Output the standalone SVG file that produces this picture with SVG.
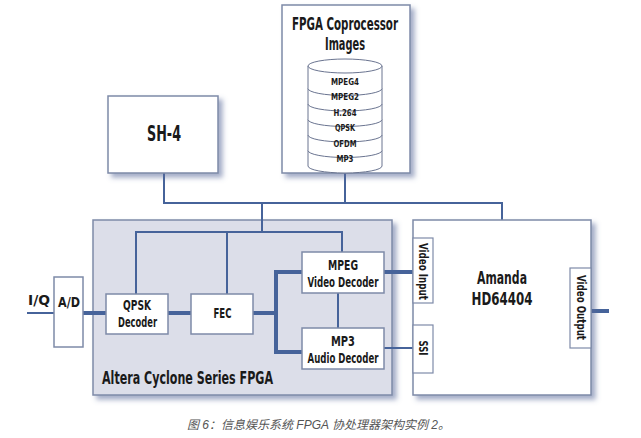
<svg xmlns="http://www.w3.org/2000/svg" width="641" height="438" viewBox="0 0 641 438">
<defs>
<filter id="sh" x="-10%" y="-10%" width="130%" height="130%">
<feDropShadow dx="4" dy="4" stdDeviation="2.5" flood-color="#5a6a9a" flood-opacity="0.55"/>
</filter>
<style>
.box{fill:#fff;stroke:#7e8aa8;stroke-width:1.5}
.port{fill:#fff;stroke:#7e8aa8;stroke-width:1.2}
.fpga{fill:#dcdee9;stroke:#7e8aa8;stroke-width:1.5}
.t{font-family:"DejaVu Sans Condensed","DejaVu Sans",sans-serif;font-stretch:condensed;font-weight:bold;fill:#1a1a1a;text-anchor:middle;dominant-baseline:central}
.thin{fill:none;stroke:#46639a;stroke-width:2}
.thick{fill:none;stroke:#46639a;stroke-width:4}
.cyl{fill:#fff;stroke:#6a7490;stroke-width:1}
.cap{font-family:"Liberation Sans","Noto Sans CJK SC",sans-serif;font-style:italic;font-size:12px;fill:#555}
</style>
</defs>
<rect width="641" height="438" fill="#fff"/>

<g id="fpga">
<rect class="fpga" x="93" y="220" width="299" height="175" filter="url(#sh)"/>
<text class="t" x="187.5" y="377" font-size="18" textLength="171" lengthAdjust="spacingAndGlyphs">Altera Cyclone Series FPGA</text>
</g>

<g id="connectors">
<polyline class="thin" points="164,173 164,203 502,203 502,220"/>
<line class="thin" x1="345" y1="173" x2="345" y2="203"/>
<line class="thin" x1="262" y1="203" x2="262" y2="232"/>
<polyline class="thin" points="136,294 136,232 342,232 342,252"/>
<line class="thin" x1="227" y1="232" x2="227" y2="294"/>
<line class="thin" x1="27" y1="313" x2="54" y2="313"/>
<line class="thick" x1="83" y1="313" x2="106" y2="313"/>
<line class="thick" x1="168" y1="313" x2="191" y2="313"/>
<line class="thick" x1="253" y1="313" x2="276" y2="313"/>
<polyline class="thick" points="302,272 276,272 276,352 302,352"/>
<line class="thin" x1="338" y1="293" x2="338" y2="328"/>
<line class="thick" x1="384" y1="272" x2="413" y2="272"/>
<line class="thin" x1="384" y1="348" x2="413" y2="348"/>
<line class="thick" x1="591" y1="311" x2="609" y2="311"/>
</g>

<g id="coproc">
<rect class="box" x="282" y="5" width="128" height="168" filter="url(#sh)"/>
<text class="t" x="345" y="23" font-size="18" textLength="106" lengthAdjust="spacingAndGlyphs">FPGA Coprocessor</text>
<text class="t" x="345" y="43" font-size="18" textLength="40" lengthAdjust="spacingAndGlyphs">Images</text>
<g id="cylinder">
<path class="cyl" d="M308,66 L308,166 A37,7 0 0 0 382,166 L382,66"/>
<ellipse class="cyl" cx="345" cy="66" rx="37" ry="7"/>
<path class="cyl" d="M308,88.5 A37,7 0 0 0 382,88.5 M308,104 A37,7 0 0 0 382,104 M308,119.5 A37,7 0 0 0 382,119.5 M308,135 A37,7 0 0 0 382,135 M308,150.5 A37,7 0 0 0 382,150.5"/>
<text class="t" x="345" y="81" font-size="9.5" textLength="28" lengthAdjust="spacingAndGlyphs">MPEG4</text>
<text class="t" x="345" y="96.5" font-size="9.5" textLength="28" lengthAdjust="spacingAndGlyphs">MPEG2</text>
<text class="t" x="345" y="112" font-size="9.5" textLength="23" lengthAdjust="spacingAndGlyphs">H.264</text>
<text class="t" x="345" y="127.5" font-size="9.5" textLength="20" lengthAdjust="spacingAndGlyphs">QPSK</text>
<text class="t" x="345" y="143" font-size="9.5" textLength="23" lengthAdjust="spacingAndGlyphs">OFDM</text>
<text class="t" x="345" y="158.5" font-size="9.5" textLength="17" lengthAdjust="spacingAndGlyphs">MP3</text>
</g>
</g>

<g id="sh4">
<rect class="box" x="108" y="96" width="110" height="77" filter="url(#sh)"/>
<text class="t" x="164" y="133" font-size="22" textLength="34" lengthAdjust="spacingAndGlyphs">SH-4</text>
</g>

<g id="ad">
<rect class="box" x="54" y="277" width="29" height="70"/>
<text class="t" x="69" y="302" font-size="14" textLength="22" lengthAdjust="spacingAndGlyphs">A/D</text>
</g>
<text class="t" x="39" y="300" font-size="14" textLength="22" lengthAdjust="spacingAndGlyphs">I/Q</text>

<g id="qpsk">
<rect class="box" x="106" y="294" width="62" height="40"/>
<text class="t" x="137" y="305" font-size="14" textLength="28" lengthAdjust="spacingAndGlyphs">QPSK</text>
<text class="t" x="137.5" y="322" font-size="14" textLength="39" lengthAdjust="spacingAndGlyphs">Decoder</text>
</g>

<g id="fec">
<rect class="box" x="191" y="294" width="62" height="40"/>
<text class="t" x="222.5" y="313" font-size="14" textLength="18" lengthAdjust="spacingAndGlyphs">FEC</text>
</g>

<g id="mpeg">
<rect class="box" x="302" y="252" width="82" height="41"/>
<text class="t" x="343" y="265" font-size="14" textLength="30" lengthAdjust="spacingAndGlyphs">MPEG</text>
<text class="t" x="343" y="282" font-size="14" textLength="71" lengthAdjust="spacingAndGlyphs">Video Decoder</text>
</g>

<g id="mp3">
<rect class="box" x="302" y="328" width="82" height="41"/>
<text class="t" x="343" y="341" font-size="14" textLength="24" lengthAdjust="spacingAndGlyphs">MP3</text>
<text class="t" x="343" y="358" font-size="14" textLength="71" lengthAdjust="spacingAndGlyphs">Audio Decoder</text>
</g>

<g id="amanda">
<rect class="box" x="413" y="220" width="178" height="175" filter="url(#sh)"/>
<text class="t" x="502" y="277" font-size="18" textLength="50" lengthAdjust="spacingAndGlyphs">Amanda</text>
<text class="t" x="502" y="298" font-size="18" textLength="61" lengthAdjust="spacingAndGlyphs">HD64404</text>
<rect class="port" x="413" y="238" width="20" height="65"/>
<text class="t" font-size="12" textLength="57" lengthAdjust="spacingAndGlyphs" transform="translate(423,271.5) rotate(90)">Video Input</text>
<rect class="port" x="413" y="325" width="20" height="48"/>
<text class="t" font-size="12" textLength="15" lengthAdjust="spacingAndGlyphs" transform="translate(423,348) rotate(90)">SSI</text>
<rect class="port" x="570" y="268" width="21" height="80"/>
<text class="t" font-size="12" textLength="65" lengthAdjust="spacingAndGlyphs" transform="translate(580.5,307.5) rotate(90)">Video Output</text>
</g>

<text class="cap" x="187" y="429">图 6：信息娱乐系统 FPGA 协处理器架构实例 2。</text>
</svg>
